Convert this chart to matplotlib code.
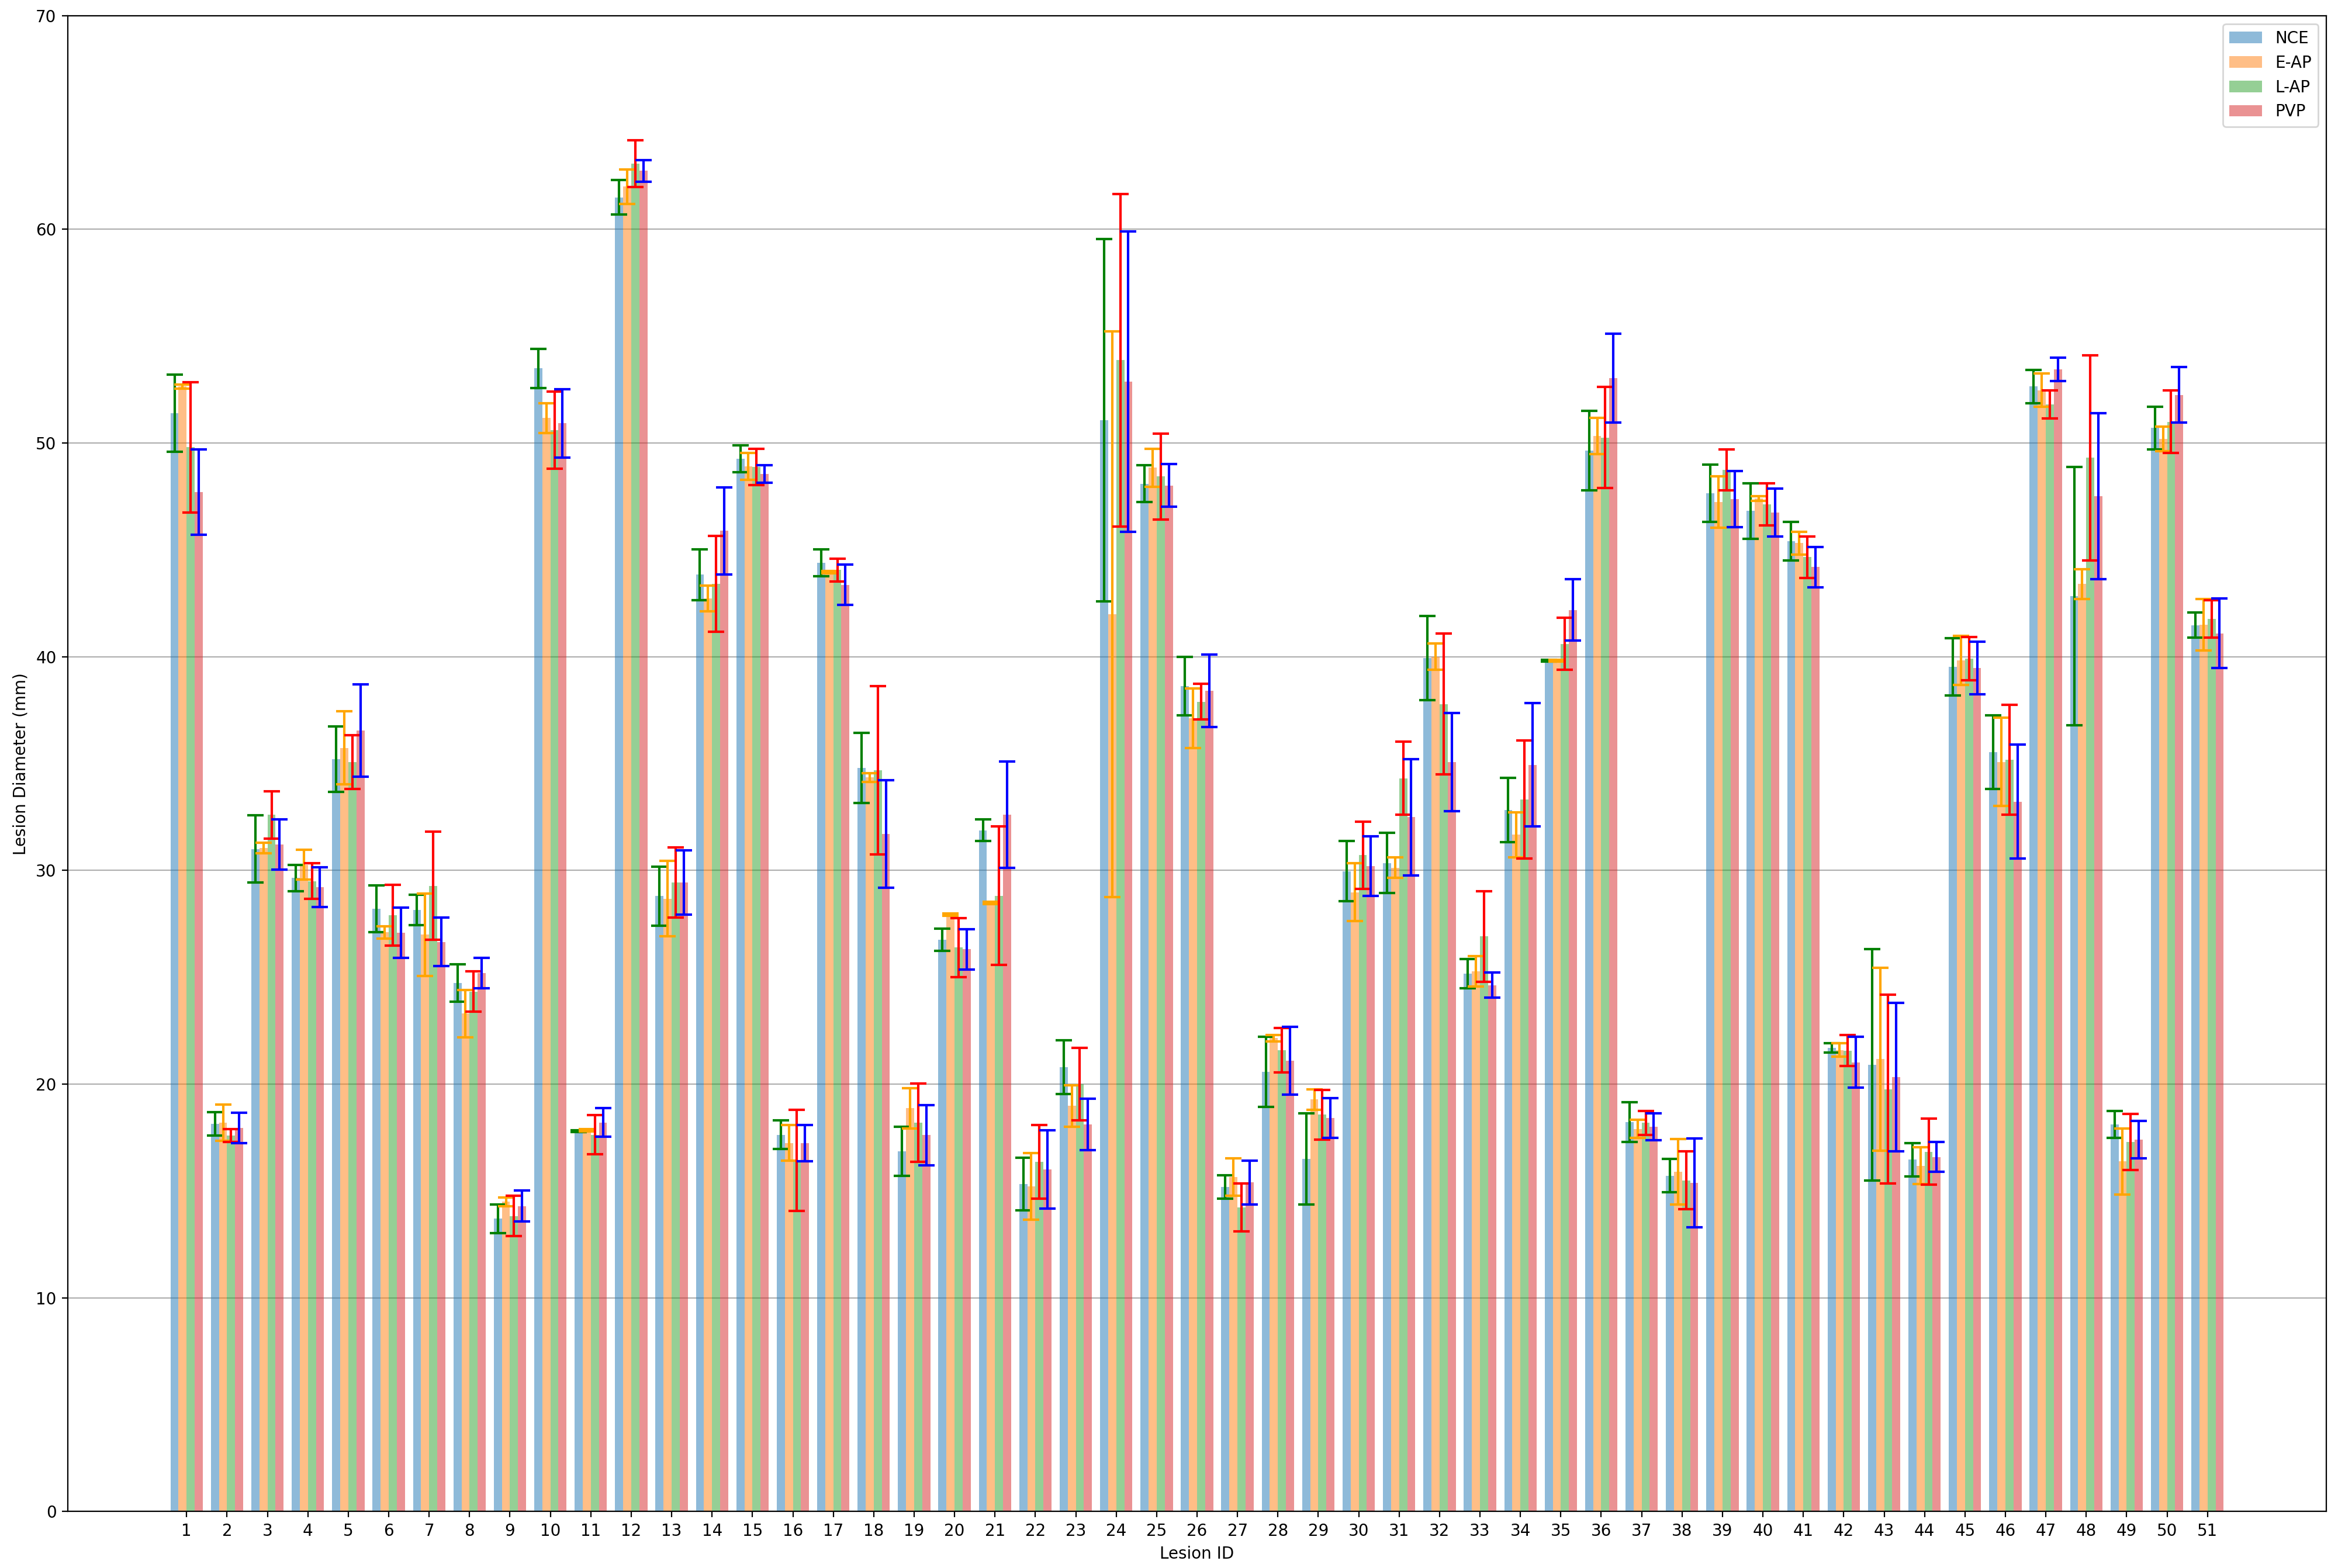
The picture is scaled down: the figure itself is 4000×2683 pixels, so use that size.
import numpy as np
import matplotlib
matplotlib.use("Agg")
from matplotlib import pyplot as plt

# lesion ids and per-phase mean diameter / std (mm)
lesion_ids = list(range(1, 52))
phases = ['NCE', 'E-AP', 'L-AP', 'PVP']

nce = [51.4, 18.15, 31.0, 29.65, 35.2, 28.2, 28.15, 24.74, 13.7, 53.5,
       17.8, 61.5, 28.8, 43.84, 49.27, 17.63, 44.4, 34.8, 16.85, 26.75,
       31.88, 15.32, 20.8, 51.07, 48.1, 38.63, 15.19, 20.58, 16.5, 29.97,
       30.35, 39.95, 25.17, 32.83, 39.82, 49.65, 18.22, 15.72, 47.65, 46.82,
       45.41, 21.7, 20.91, 16.47, 39.52, 35.54, 52.65, 42.84, 18.12, 50.71, 41.48]
nce_sd = [1.8, 0.55, 1.57, 0.62, 1.53, 1.1, 0.72, 0.88, 0.66, 0.92,
          0.05, 0.81, 1.38, 1.19, 0.63, 0.67, 0.63, 1.63, 1.15, 0.52,
          0.5, 1.23, 1.26, 8.48, 0.86, 1.37, 0.56, 1.64, 2.13, 1.42,
          1.4, 1.97, 0.68, 1.5, 0.05, 1.87, 0.93, 0.77, 1.35, 1.3,
          0.9, 0.22, 5.41, 0.78, 1.34, 1.72, 0.78, 6.05, 0.62, 1.0, 0.58]

eap = [52.65, 18.2, 31.05, 30.27, 35.73, 27.1, 27.0, 23.3, 14.5, 51.17,
       17.85, 62.0, 28.68, 42.74, 48.91, 17.25, 43.96, 34.35, 18.87, 27.94,
       28.48, 15.22, 18.98, 41.99, 48.85, 37.12, 15.65, 22.15, 19.28, 28.98,
       30.13, 40.0, 25.29, 31.67, 39.82, 50.34, 17.91, 15.89, 47.25, 47.41,
       45.32, 21.6, 21.17, 16.18, 39.83, 35.08, 52.47, 43.4, 16.38, 50.2, 41.5]
eap_sd = [0.1, 0.85, 0.25, 0.69, 1.71, 0.3, 1.93, 1.1, 0.2, 0.7,
          0.05, 0.81, 1.77, 0.6, 0.63, 0.83, 0.05, 0.21, 0.95, 0.05,
          0.05, 1.55, 0.96, 13.23, 0.89, 1.39, 0.88, 0.15, 0.47, 1.36,
          0.48, 0.61, 0.71, 1.05, 0.05, 0.85, 0.42, 1.53, 1.2, 0.1,
          0.53, 0.32, 4.28, 0.86, 1.15, 2.06, 0.78, 0.71, 1.54, 0.57, 1.2]

lap = [49.8, 17.6, 32.6, 29.5, 35.07, 27.9, 29.28, 24.33, 13.83, 50.6,
       17.63, 63.07, 29.44, 43.42, 48.89, 16.44, 44.06, 34.68, 18.2, 26.4,
       28.82, 16.37, 20.0, 53.88, 48.44, 37.9, 14.23, 21.58, 18.57, 30.71,
       34.31, 37.79, 26.91, 33.32, 40.6, 50.26, 18.19, 15.5, 48.74, 47.14,
       44.66, 21.57, 19.76, 16.84, 39.91, 35.18, 51.8, 49.31, 17.3, 51.0, 41.78]
lap_sd = [3.05, 0.3, 1.1, 0.84, 1.27, 1.42, 2.53, 0.94, 0.94, 1.8,
          0.92, 1.1, 1.63, 2.24, 0.85, 2.36, 0.54, 3.94, 1.84, 1.38,
          3.25, 1.72, 1.69, 7.78, 2.01, 0.84, 1.12, 1.04, 1.17, 1.56,
          1.71, 3.3, 2.13, 2.75, 1.22, 2.37, 0.56, 1.35, 0.96, 0.98,
          0.98, 0.72, 4.42, 1.55, 1.01, 2.56, 0.66, 4.8, 1.31, 1.47, 0.87]

pvp = [47.7, 17.95, 31.22, 29.22, 36.55, 27.09, 26.66, 25.2, 14.3, 50.92,
       18.2, 62.74, 29.43, 45.89, 48.55, 17.23, 43.37, 31.71, 17.62, 26.31,
       32.6, 16.0, 18.11, 52.88, 48.02, 38.41, 15.4, 21.09, 18.41, 30.21,
       32.49, 35.07, 24.63, 34.94, 42.19, 53.03, 18.0, 15.38, 47.38, 46.75,
       44.2, 21.02, 20.33, 16.59, 39.48, 33.22, 53.44, 47.52, 17.41, 52.25, 41.1]
pvp_sd = [2.0, 0.7, 1.18, 0.92, 2.16, 1.17, 1.14, 0.7, 0.72, 1.6,
          0.67, 0.5, 1.5, 2.04, 0.41, 0.85, 0.94, 2.52, 1.41, 0.95,
          2.49, 1.83, 1.2, 7.03, 0.99, 1.69, 1.02, 1.59, 0.93, 1.39,
          2.73, 2.29, 0.59, 2.89, 1.44, 2.08, 0.63, 2.09, 1.31, 1.13,
          0.94, 1.19, 3.47, 0.7, 1.23, 2.66, 0.55, 3.88, 0.88, 1.3, 1.62]

means = [nce, eap, lap, pvp]
stds = [nce_sd, eap_sd, lap_sd, pvp_sd]
bar_colors = ['tab:blue', 'tab:orange', 'tab:green', 'tab:red']
err_colors = ['green', 'orange', 'red', 'blue']

x = np.arange(1, len(lesion_ids) + 1)
width = 0.2

fig, ax = plt.subplots(figsize=(20, 13.415), dpi=200)
for i in range(4):
    ax.bar(x + (i - 1.5) * width, means[i], width, yerr=stds[i], capsize=5,
           color=bar_colors[i], alpha=0.5, label=phases[i],
           error_kw=dict(ecolor=err_colors[i], elinewidth=1.5, capthick=1.5))

ax.set_xticks(x)
ax.set_xticklabels(lesion_ids)
ax.set_ylim(0, 70)
ax.set_xlabel('Lesion ID')
ax.set_ylabel('Lesion Diameter (mm)')
ax.set_axisbelow(True)
ax.yaxis.grid(True)
ax.legend(loc='upper right')

plt.subplots_adjust(left=0.029, right=0.995, top=0.990, bottom=0.036)
plt.savefig('out.png', dpi=200)
